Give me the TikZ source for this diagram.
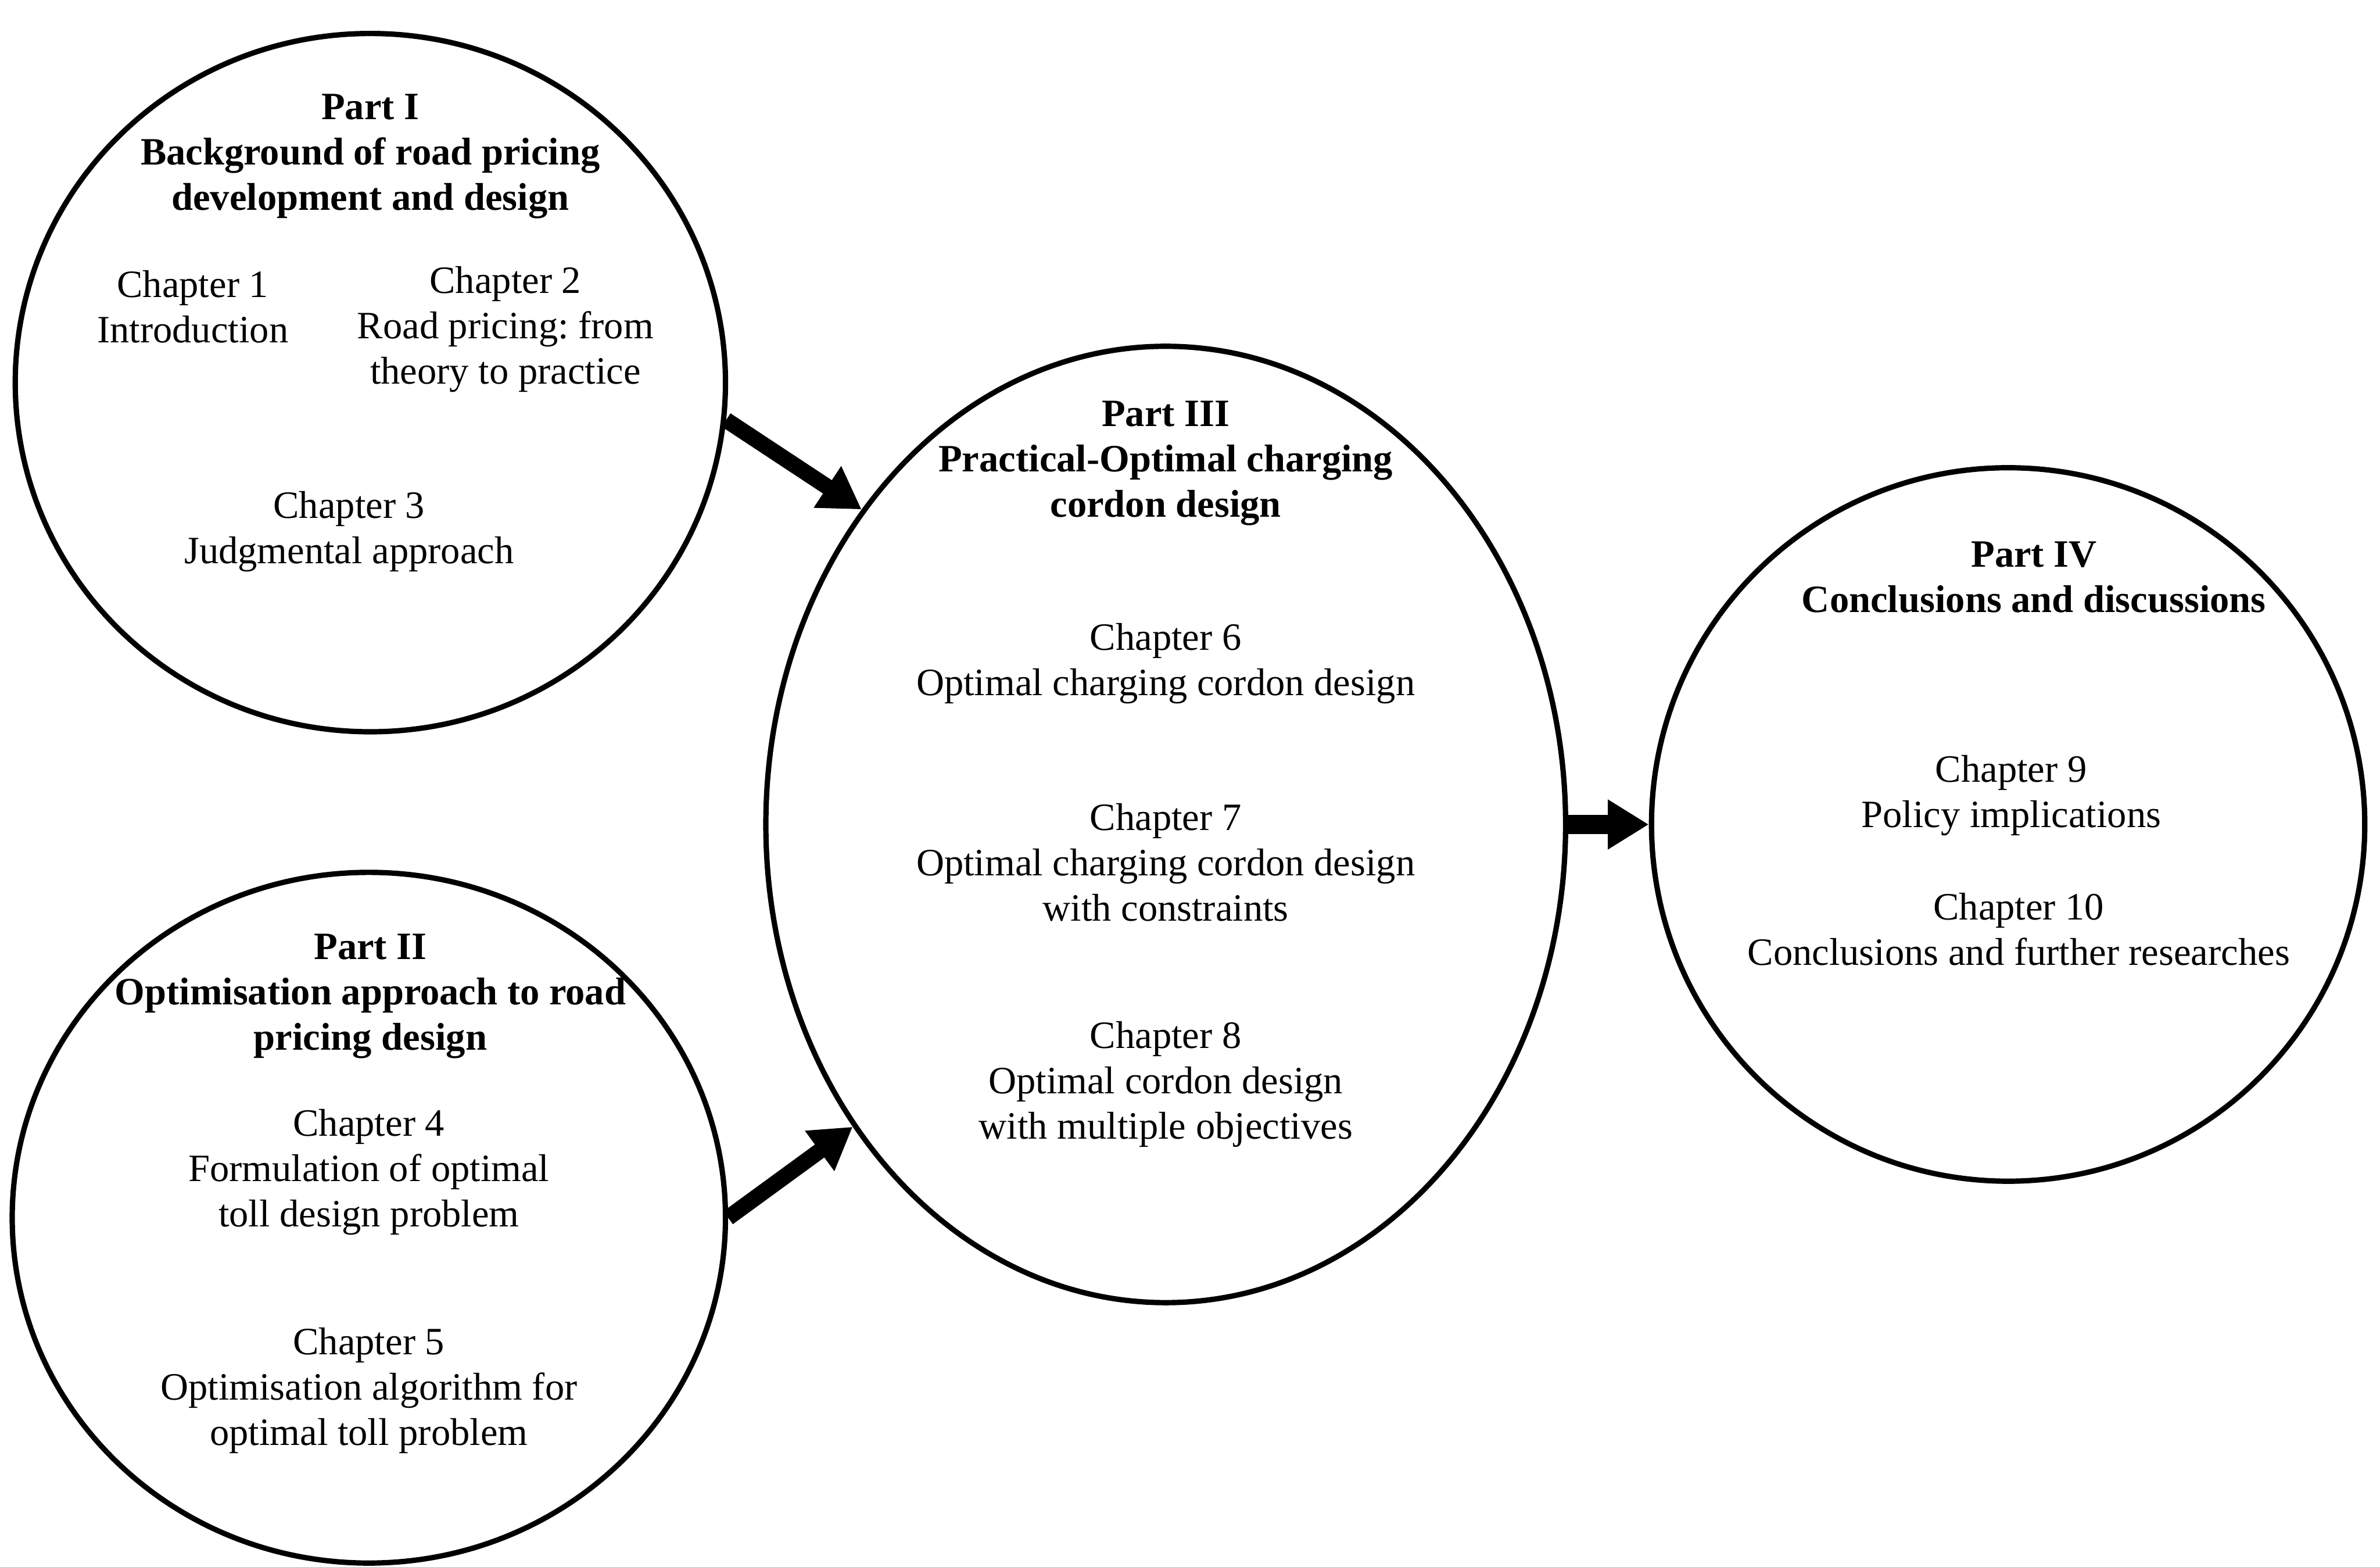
\documentclass[tikz,border=0pt]{standalone}
\usepackage{fontspec}
\setmainfont{Liberation Serif}
\usetikzlibrary{shapes.geometric,arrows.meta}
\frenchspacing
\tikzset{
  part/.style={ellipse, draw, line width=2pt, inner sep=0pt},
  txt/.style={align=center, font=\fontsize{14.5}{17}\selectfont},
  head/.style={txt, font=\fontsize{14.5}{17}\selectfont\bfseries},
  flow/.style={-{Triangle[length=0.54cm,width=0.62cm]}, line width=6pt}
}
\begin{document}
\begin{tikzpicture}[x=0.02cm,y=-0.02cm]
      \useasboundingbox (0,0) rectangle (1568,1032);
      \node[part, minimum width=9.36cm, minimum height=9.2cm] (p1) at (244,252) {};
      \node[part, minimum width=9.4cm, minimum height=9.1cm] (p2) at (243,802) {};
      \node[part, minimum width=10.54cm, minimum height=12.6cm] (p3) at (768,543) {};
      \node[part, minimum width=9.4cm, minimum height=9.4cm] (p4) at (1323,543) {};
      \draw
        (244,103) node[head] (h1){Part I\\Background of road pricing\\development and design}
        (127,202) node[txt] (c1){Chapter 1\\Introduction}
        (333,217) node[txt] (c2){Chapter 2\\Road pricing: from\\theory to practice}
        (230,350) node[txt] (c3){Chapter 3\\Judgmental approach}
        (244,656) node[head] (h2){Part II\\Optimisation approach to road\\pricing design}
        (243,772) node[txt] (c4){Chapter 4\\Formulation of optimal\\toll design problem}
        (243,916) node[txt] (c5){Chapter 5\\Optimisation algorithm for\\optimal toll problem}
        (768,305) node[head] (h3){Part III\\Practical-Optimal charging\\cordon design}
        (768,437) node[txt] (c6){Chapter 6\\Optimal charging cordon design}
        (768,568) node[txt] (c7){Chapter 7\\Optimal charging cordon design\\with constraints}
        (768,714) node[txt] (c8){Chapter 8\\Optimal cordon design\\with multiple objectives}
        (1340,380) node[head] (h4){Part IV\\Conclusions and discussions}
        (1325,524) node[txt] (c9){Chapter 9\\Policy implications}
        (1330,612) node[txt] (c10){Chapter 10\\Conclusions and further researches};
      \begin{scope}[flow]
        \draw (p1.-6) to (p3.134);
        \draw (p2.0) to (p3.-136);
        \draw[line width=7pt] (p3.east) to (p4.west);
      \end{scope}
    \end{tikzpicture}
\end{document}
